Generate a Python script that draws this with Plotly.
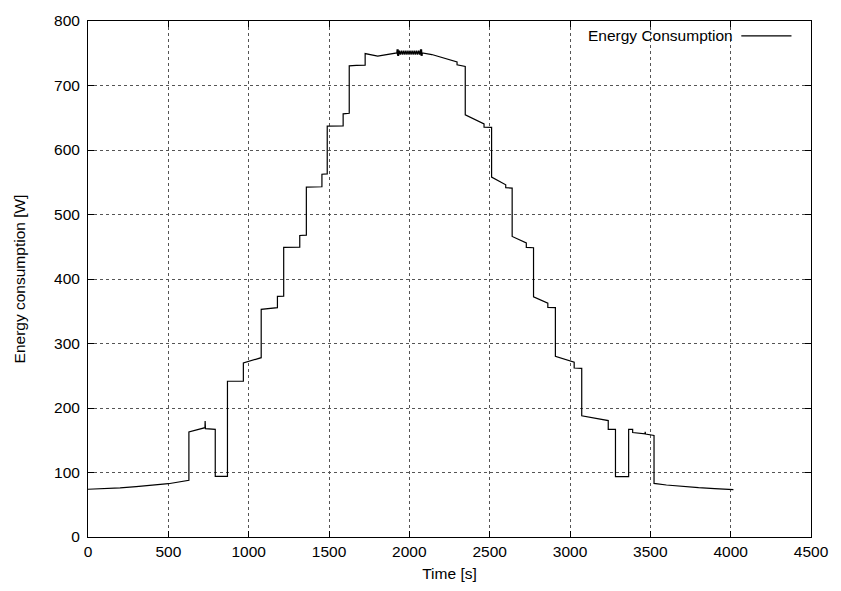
import plotly.graph_objects as go

# Time [s] and energy consumption [W] (step profile)
time_s = [
    0, 100, 200, 300, 400, 500, 628,
    628, 728, 729, 731, 792,
    792, 868,
    868, 967,
    967, 1078,
    1078, 1179,
    1179, 1218,
    1218, 1318,
    1318, 1359,
    1359, 1456,
    1456, 1489,
    1489, 1588,
    1588, 1626,
    1626, 1670, 1725,
    1725, 1737, 1803, 1922,
    1924, 1927, 1930, 1933, 1938, 1944, 1950, 1956, 1962, 1968, 1974, 1980,
    1986, 1992, 1998, 2004, 2010, 2016, 2022, 2028, 2034, 2040, 2046, 2052,
    2058, 2064, 2070, 2073, 2076, 2079, 2081,
    2140, 2193, 2250, 2297,
    2297, 2348,
    2348, 2465,
    2465, 2512,
    2512, 2600,
    2600, 2640,
    2640, 2728,
    2728, 2773,
    2773, 2862,
    2862, 2909,
    2909, 3026,
    3026, 3073,
    3073, 3238,
    3238, 3283,
    3283, 3365,
    3365, 3390,
    3390, 3467, 3468, 3470, 3523,
    3523, 3600, 3700, 3800, 3900, 4017,
]
energy_w = [
    74, 74.8, 76.2, 78.0, 80.2, 82.6, 88,
    163, 169.5, 180, 168, 167,
    94, 94,
    241.5, 241.5,
    270, 278,
    353, 355.5,
    373, 373.5,
    449, 449.5,
    467.5, 468,
    542.5, 543,
    562.5, 563,
    637, 637.5,
    656, 657,
    730.5, 731.2, 731.5,
    749.5, 749, 745.5, 750.5,
    756, 746, 756, 746, 754, 748, 754, 748, 754, 748, 754, 748,
    754, 748, 754, 748, 754, 748, 754, 748, 754, 748, 754, 748,
    754, 748, 756, 746, 756, 746, 750.5,
    748, 744, 740.5, 736.5,
    732, 729.5,
    654.5, 640.5,
    635.5, 635,
    558, 546,
    541.5, 541,
    466, 456,
    449, 448.5,
    372.5, 362.5,
    356, 355.5,
    280, 271,
    262, 261.5,
    188, 180.5,
    167, 167,
    93.5, 93.5,
    167, 167,
    162, 159.8, 163, 159.6, 157.5,
    83, 80.6, 78.3, 76.4, 75, 73.5,
]

x_ticks = [0, 500, 1000, 1500, 2000, 2500, 3000, 3500, 4000, 4500]
y_ticks = [0, 100, 200, 300, 400, 500, 600, 700, 800]

font_family = "Liberation Sans, Arial, sans-serif"
fs = 15.5

fig = go.Figure()
fig.add_trace(go.Scatter(
    x=time_s, y=energy_w, mode="lines",
    name="Energy Consumption",
    line=dict(color="black", width=1.2),
    showlegend=False,
))

axis_common = dict(
    showline=True, linecolor="black", linewidth=1, mirror="ticks",
    ticks="inside", ticklen=6, tickcolor="black", tickwidth=1,
    showgrid=True, gridcolor="#555555", gridwidth=1, griddash="dot",
    zeroline=False,
    tickfont=dict(family=font_family, size=fs, color="black"),
)

fig.update_layout(
    width=841, height=591,
    margin=dict(l=88, r=24, t=19, b=53),
    paper_bgcolor="white", plot_bgcolor="white",
    font=dict(family=font_family, size=fs, color="black"),
    xaxis=dict(
        range=[0, 4500], tickvals=x_ticks, ticktext=[str(v) for v in x_ticks],
        title=dict(text="Time [s]", font=dict(size=fs), standoff=9),
        **axis_common,
    ),
    yaxis=dict(
        range=[0, 800], tickvals=y_ticks, ticktext=[str(v) for v in y_ticks],
        ticklabelstandoff=4,
        title=dict(text="Energy consumption [W]", font=dict(size=fs), standoff=24),
        **axis_common,
    ),
    annotations=[dict(
        text="Energy Consumption", xref="paper", yref="paper",
        x=0.8952, y=0.971, xanchor="right", yanchor="middle",
        showarrow=False, font=dict(family=font_family, size=fs, color="black"),
    )],
    shapes=[dict(
        type="line", xref="paper", yref="paper",
        x0=0.9036, x1=0.973, y0=0.971, y1=0.971,
        line=dict(color="black", width=1.2),
    )],
)

fig.write_html("out.html")
